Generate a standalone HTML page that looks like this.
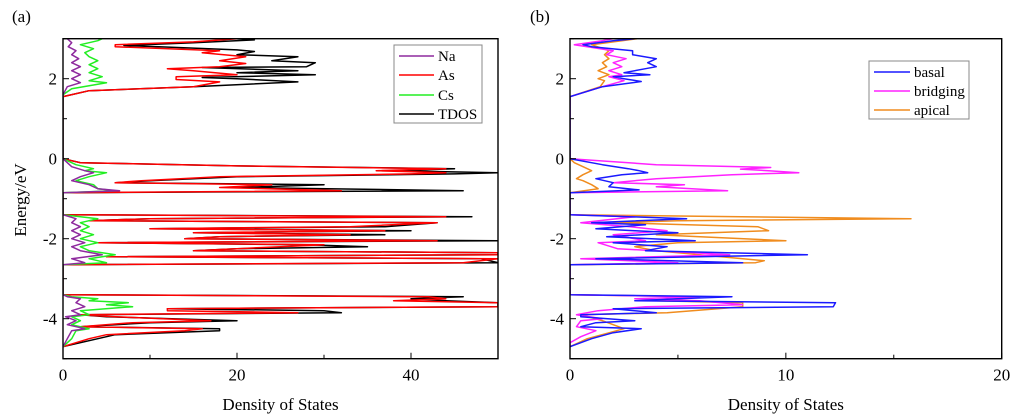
<!DOCTYPE html>
<html><head><meta charset="utf-8">
<style>
html,body{margin:0;padding:0;background:#fff;}
svg{display:block;}
text{font-family:"Liberation Serif","Times New Roman",serif;}
</style></head>
<body>
<svg id="chart" width="1024" height="418" viewBox="0 0 1024 418" xmlns="http://www.w3.org/2000/svg" font-family="Liberation Serif, serif">
<g id="panelA"></g>
<g id="panelB"></g>
</svg>
<script>
// ---- data: [energy (eV), density of states] ----
const naPts=[[-4.7,0],[-4.5,0.5],[-4.3,1],[-4.25,2.5],[-4.15,0.5],[-4.05,1.5],[-3.95,0.3],[-3.9,2],[-3.8,1],[-3.7,2.5],[-3.6,1.5],[-3.5,2],[-3.45,0.5],[-3.4,0],[-2.65,0],[-2.6,2.5],[-2.5,1],[-2.4,4.5],[-2.3,2],[-2.2,1],[-2.1,2.5],[-2.0,1],[-1.9,2],[-1.8,1],[-1.7,2],[-1.6,1],[-1.5,1.5],[-1.4,0],[-0.85,0],[-0.8,6.5],[-0.75,4],[-0.65,3],[-0.55,1],[-0.45,2],[-0.35,3.5],[-0.3,2.5],[-0.2,1],[0,0],[1.6,0],[1.8,0.5],[1.9,2],[2.0,1],[2.1,2],[2.2,1],[2.3,2],[2.4,1],[2.5,1.8],[2.6,1],[2.7,1.5],[2.8,0.6],[2.9,1],[3.0,0.5]];
const csPts=[[-4.7,0],[-4.5,1],[-4.3,1.5],[-4.25,3],[-4.15,1],[-4.05,2],[-3.95,1],[-3.9,3],[-3.8,2],[-3.7,8],[-3.65,5],[-3.6,7.5],[-3.55,3],[-3.5,4],[-3.45,1],[-3.4,0],[-2.65,0],[-2.6,5],[-2.5,3],[-2.4,6],[-2.3,3],[-2.2,2],[-2.1,4],[-2.0,2],[-1.9,3.5],[-1.8,2],[-1.7,3],[-1.6,2],[-1.5,4],[-1.4,0],[-0.85,0],[-0.8,6],[-0.75,4],[-0.65,3.5],[-0.55,1.5],[-0.45,3],[-0.35,5],[-0.3,2.5],[-0.25,3.5],[-0.15,1.5],[0,0],[1.6,0],[1.75,1],[1.9,5],[1.95,3],[2.05,4.5],[2.15,3],[2.25,4],[2.35,3],[2.45,4],[2.55,3],[2.65,2.5],[2.75,3.5],[2.85,2],[2.95,4],[3.0,4.5]];
const asPts=[[-4.7,0],[-4.5,3],[-4.4,5],[-4.3,14],[-4.25,16],[-4.2,2],[-4.1,8],[-4.05,17],[-3.95,6],[-3.9,2],[-3.85,27],[-3.8,12],[-3.75,12],[-3.7,50],[-3.65,50],[-3.6,50],[-3.55,38],[-3.5,44],[-3.45,42],[-3.4,0],[-2.65,0],[-2.6,46],[-2.5,50],[-2.45,5],[-2.4,50],[-2.35,50],[-2.3,15],[-2.25,20],[-2.2,25],[-2.15,30],[-2.1,4],[-2.05,43],[-2.0,14],[-1.95,18],[-1.9,33],[-1.85,15],[-1.8,37],[-1.75,10],[-1.7,33],[-1.6,43],[-1.55,3],[-1.5,10],[-1.45,44],[-1.4,0],[-0.85,0],[-0.8,32],[-0.72,18],[-0.65,24],[-0.6,6],[-0.55,9],[-0.45,18],[-0.38,40],[-0.35,44],[-0.3,36],[-0.25,44],[-0.18,20],[-0.1,2],[0,0],[1.55,0],[1.7,3],[1.8,15],[1.92,18],[1.98,13],[2.05,13],[2.1,20],[2.2,15],[2.25,12],[2.3,18],[2.38,21],[2.45,18],[2.55,21],[2.65,16],[2.7,18],[2.8,6],[2.85,6],[2.92,15],[3.0,20]];
const tdosPts=[[-4.7,0],[-4.5,4],[-4.4,6],[-4.3,18],[-4.25,18],[-4.2,2],[-4.1,10],[-4.05,20],[-3.95,5],[-3.9,2],[-3.85,32],[-3.8,30],[-3.75,12],[-3.7,50],[-3.65,50],[-3.6,50],[-3.55,44],[-3.5,40],[-3.45,46],[-3.4,0],[-2.65,0],[-2.6,50],[-2.5,48],[-2.45,5],[-2.4,50],[-2.35,50],[-2.3,15],[-2.25,20],[-2.2,35],[-2.15,28],[-2.1,4],[-2.05,50],[-2.0,14],[-1.95,18],[-1.9,37],[-1.85,15],[-1.8,40],[-1.75,10],[-1.7,37],[-1.6,43],[-1.55,3],[-1.5,10],[-1.45,47],[-1.4,0],[-0.85,0],[-0.8,46],[-0.72,20],[-0.65,30],[-0.6,6],[-0.55,10],[-0.45,20],[-0.38,45],[-0.35,50],[-0.3,38],[-0.25,45],[-0.18,20],[-0.1,2],[0,0],[1.55,0],[1.7,3],[1.8,15],[1.92,27],[2.0,20],[2.03,16],[2.1,29],[2.15,20],[2.2,27],[2.28,16],[2.3,28],[2.4,29],[2.45,24],[2.55,27],[2.6,20],[2.68,22],[2.72,20],[2.8,11],[2.83,7],[2.9,15],[2.97,22],[3.0,20]];
const basalPts=[[-4.7,0],[-4.5,1.0],[-4.35,2],[-4.25,3.3],[-4.2,0.5],[-4.1,1.2],[-4.05,3],[-3.95,0.5],[-3.9,0.5],[-3.85,4],[-3.75,2],[-3.7,12.2],[-3.6,12.3],[-3.55,3],[-3.5,5],[-3.45,7.5],[-3.4,0],[-2.65,0],[-2.6,8.0],[-2.5,1.2],[-2.4,11.0],[-2.3,3.5],[-2.2,4.5],[-2.1,2],[-2.05,5.8],[-1.95,1.7],[-1.85,5.0],[-1.8,3.0],[-1.75,1.2],[-1.65,3.5],[-1.6,1.0],[-1.5,5.4],[-1.4,0],[-0.85,0],[-0.78,3.2],[-0.7,1.8],[-0.6,2.0],[-0.5,1.2],[-0.4,2.4],[-0.35,3.6],[-0.3,3.2],[-0.25,2.7],[-0.15,1.5],[0,0],[1.55,0],[1.8,1.5],[1.93,3.3],[2.0,2.5],[2.05,2.0],[2.1,3.7],[2.15,2.5],[2.25,3.5],[2.3,4.0],[2.4,3.6],[2.5,4.0],[2.6,2.9],[2.7,2.9],[2.8,1.0],[2.85,0.6],[2.95,2.0],[3.0,3.0]];
const bridgingPts=[[-4.7,0],[-4.6,0],[-4.45,0.5],[-4.3,1.2],[-4.2,0.3],[-4.05,0.5],[-4.0,1.5],[-3.9,0.3],[-3.8,1.3],[-3.7,3.5],[-3.65,8],[-3.55,6],[-3.5,3],[-3.45,6],[-3.4,0],[-2.65,0],[-2.6,5.0],[-2.5,0.5],[-2.4,7.4],[-2.25,2.2],[-2.1,1.3],[-2.05,3.5],[-1.9,2.0],[-1.8,4.5],[-1.7,2.8],[-1.6,0.5],[-1.45,3],[-1.4,0],[-0.85,0],[-0.8,7.3],[-0.7,4],[-0.65,5.3],[-0.6,2],[-0.5,4],[-0.4,7.5],[-0.35,10.6],[-0.3,9.2],[-0.26,7.9],[-0.22,9.3],[-0.15,4],[0,0],[1.55,0],[1.8,1.5],[1.95,2.5],[2.05,1.8],[2.1,2.4],[2.2,1.8],[2.3,2.4],[2.4,2.0],[2.5,2.6],[2.6,1.7],[2.7,2.0],[2.85,0.2],[2.95,1.5],[3.0,2.0]];
const apicalPts=[[-4.7,0],[-4.5,0.8],[-4.25,2.5],[-4.05,1.5],[-3.9,0.5],[-3.85,4.5],[-3.7,8],[-3.6,8],[-3.55,4],[-3.45,6],[-3.4,0],[-2.65,0],[-2.6,8.6],[-2.55,9],[-2.4,6],[-2.3,4],[-2.2,3],[-2.1,5],[-2.05,10],[-1.9,4],[-1.8,9.2],[-1.7,8.7],[-1.6,2],[-1.55,5],[-1.5,15.8],[-1.4,0],[-0.85,0],[-0.75,1.3],[-0.65,1.0],[-0.55,0.6],[-0.5,0.3],[-0.4,0.6],[-0.3,1.0],[-0.2,0.6],[-0.1,0.2],[0,0],[1.55,0],[1.8,1.4],[1.95,1.6],[2.0,1.3],[2.1,1.8],[2.2,1.3],[2.3,1.7],[2.4,1.5],[2.5,1.8],[2.6,1.6],[2.7,1.8],[2.85,1.0],[3.0,3.1]];
const yTicks=[-4,-2,0,2];
const yMinor=[-5,-3,-1,1,3];
const xTicksA=[0,20,40];
const xMinorA=[10,30,50];
const xTicksB=[0,10,20];
const xMinorB=[5,15];
const legendA=["Na","As","Cs","TDOS"];
const legendB=["basal","bridging","apical"];

const NS="http://www.w3.org/2000/svg";
const FONT='"Liberation Serif", serif';
function mk(parent,tag,attrs,text){
  const el=document.createElementNS(NS,tag);
  for(const k in attrs) el.setAttribute(k,attrs[k]);
  if(text!==undefined){ el.textContent=text; el.setAttribute('font-family',FONT); el.style.fontFamily=FONT; }
  parent.appendChild(el);
  return el;
}
const top_=38.7, bot=358.7, yMin=-5, yMax=3;
function yScale(e){return bot-(e-yMin)/(yMax-yMin)*(bot-top_);}

function panel(g,x0,x1,xMax,label,lx){
  const xs=v=>x0+v/xMax*(x1-x0);
  const t=mk(g,'text',{x:lx,y:22,'font-size':17},label);
  
  
  return xs;
}
function axes(g,x0,x1,xMax,ticks,minor,xs){
  const f=mk(g,'rect',{x:x0,y:top_,width:x1-x0,height:bot-top_,fill:'none',stroke:'#000','stroke-width':1.4});
  
  
  ticks.forEach(v=>{
    const x=xs(v);
    const l=mk(g,'line',{x1:x,x2:x,y1:bot,y2:bot-6,stroke:'#000','stroke-width':1});
    
    
    const t=mk(g,'text',{x:x,y:bot+22,'font-size':17,'text-anchor':'middle'},String(v));
    
    
  });
  minor.forEach(v=>{
    const x=xs(v);
    const l=mk(g,'line',{x1:x,x2:x,y1:bot,y2:bot-4,stroke:'#000','stroke-width':1});
    
    
  });
  yTicks.forEach(v=>{
    const y=yScale(v);
    const l=mk(g,'line',{x1:x0,x2:x0+6,y1:y,y2:y,stroke:'#000','stroke-width':1});
    
    
    const t=mk(g,'text',{x:x0-6,y:y+6,'font-size':17,'text-anchor':'end'},String(v));
    
    
  });
  yMinor.forEach(v=>{
    const y=yScale(v);
    const l=mk(g,'line',{x1:x0,x2:x0+4,y1:y,y2:y,stroke:'#000','stroke-width':1});
    
    
  });
  const xt=mk(g,'text',{x:(x0+x1)/2,y:410,'font-size':17,'text-anchor':'middle'},'Density of States');
  
  
}
function series(g,pts,xs,color,name){
  const d=pts.map(p=>xs(p[1]).toFixed(1)+','+yScale(p[0]).toFixed(1)).join(' ');
  const pl=mk(g,'polyline',{points:d,fill:'none',stroke:color,'stroke-width':1.5,'stroke-linejoin':'round'});
  
  
}
function legend(g,bx,by,bw,bh,names,colors,lx0,lx1,tx,ys){
  const lg=mk(g,'g',{});
  
  
  mk(lg,'rect',{x:bx,y:by,width:bw,height:bh,fill:'#fff',stroke:'#888','stroke-width':1});
  names.forEach((n,i)=>{
    const e=mk(lg,'g',{});
    
    
    mk(e,'line',{x1:lx0,x2:lx1,y1:ys[i],y2:ys[i],stroke:colors[i],'stroke-width':1.5});
    mk(e,'text',{x:tx,y:ys[i]+5,'font-size':15},n);
  });
}
// Panel A
const gA=document.getElementById('panelA');
const clipA=mk(gA,'clipPath',{id:'cA'}); mk(clipA,'rect',{x:63,y:top_,width:435,height:bot-top_});
const xsA=panel(gA,63,498,50,'(a)',12);
const sa=mk(gA,'g',{'clip-path':'url(#cA)'});
series(sa,tdosPts,xsA,'#000','tdos-line');
series(sa,asPts,xsA,'#ff0000','as-line');
series(sa,csPts,xsA,'#22ee22','cs-line');
series(sa,naPts,xsA,'#8e2a9e','na-line');
axes(gA,63,498,50,xTicksA,xMinorA,xsA);
const yt=mk(gA,'text',{x:0,y:0,'font-size':17,'text-anchor':'middle',transform:'translate(26,200) rotate(-90)'},'Energy/eV');


legend(gA,394,45,88,78,legendA,['#8e2a9e','#ff0000','#22ee22','#000'],399,434,438,[56,75,95,114]);
// Panel B
const gB=document.getElementById('panelB');
const clipB=mk(gB,'clipPath',{id:'cB'}); mk(clipB,'rect',{x:570,y:top_,width:432,height:bot-top_});
const xsB=panel(gB,570,1001.7,20,'(b)',530);
const sb=mk(gB,'g',{'clip-path':'url(#cB)'});
series(sb,apicalPts,xsB,'#f08c1e','apical-line');
series(sb,bridgingPts,xsB,'#ff22ff','bridging-line');
series(sb,basalPts,xsB,'#1a1aff','basal-line');
axes(gB,570,1001.7,20,xTicksB,xMinorB,xsB);
legend(gB,869,61,100,58,legendB,['#1a1aff','#ff22ff','#f08c1e'],874,910,914,[72,91,110]);
</script>
</body></html>
